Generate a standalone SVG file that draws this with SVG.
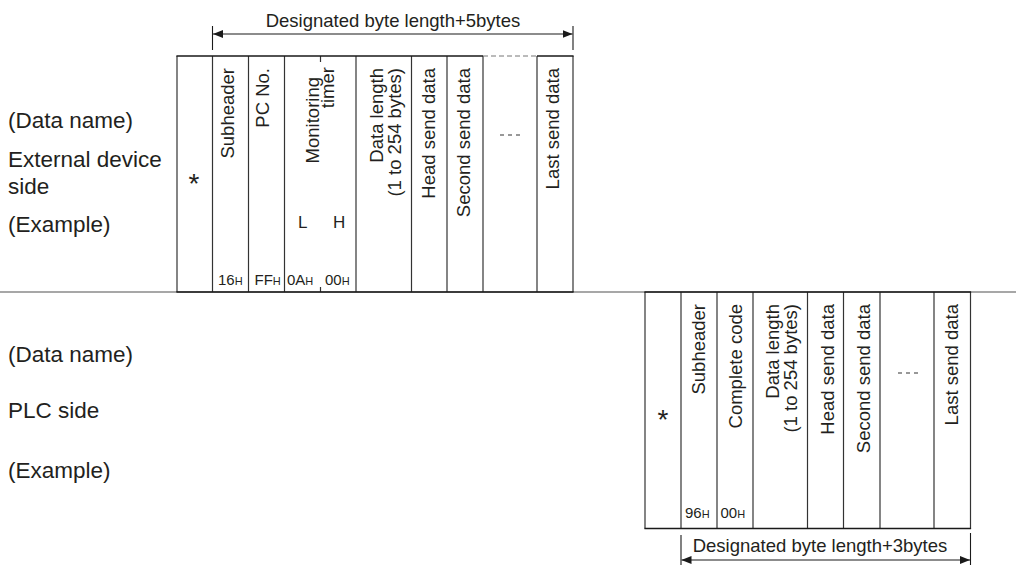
<svg xmlns="http://www.w3.org/2000/svg" width="1016" height="565" viewBox="0 0 1016 565">
<style>
.t{font-family:"Liberation Sans",Arial,sans-serif;fill:#231f20}
.lbl{font-size:22.5px}
.col{font-size:18.5px}
.ttl{font-size:18.5px}
.hex{font-size:15px}
.hs{font-size:11px}
.ast{font-size:28px}
.lh{font-size:17px}
.frm line{stroke:#333;stroke-width:1.2}
.bd{stroke:#1a1a1a;stroke-width:1.6;fill:none}
.dim{stroke:#1a1a1a;stroke-width:1.1;fill:none}
.dots{stroke:#777;stroke-width:1;stroke-dasharray:4 4}
</style>
<defs>
<marker id="ah" viewBox="0 0 10 8" refX="10" refY="4" markerWidth="10" markerHeight="8" markerUnits="userSpaceOnUse" orient="auto-start-reverse">
<path d="M0,0 L10,4 L0,8 Z" fill="#1a1a1a"/>
</marker>
</defs>
<rect width="1016" height="565" fill="#fff"/>

<g id="separator">
<line x1="0" y1="292" x2="1016" y2="292" stroke="#8a8a8a" stroke-width="1.5"/>
</g>

<g id="ext-labels">
<text class="t lbl" x="8" y="128">(Data name)</text>
<text class="t lbl" x="8" y="167">External device</text>
<text class="t lbl" x="8" y="194">side</text>
<text class="t lbl" x="8" y="232">(Example)</text>
</g>

<g id="ext-frame" class="frm">
<line x1="177" y1="56" x2="177" y2="292"/>
<line x1="212.5" y1="56" x2="212.5" y2="292"/>
<line x1="248.5" y1="56" x2="248.5" y2="292"/>
<line x1="284.5" y1="56" x2="284.5" y2="292"/>
<line x1="356" y1="56" x2="356" y2="292"/>
<line x1="411.5" y1="56" x2="411.5" y2="292"/>
<line x1="447" y1="56" x2="447" y2="292"/>
<line x1="483" y1="56" x2="483" y2="292"/>
<line x1="537" y1="56" x2="537" y2="292"/>
<line x1="573" y1="56" x2="573" y2="292"/>
<line x1="320.5" y1="56" x2="320.5" y2="62"/>
<line x1="320.5" y1="287" x2="320.5" y2="292"/>
<path class="bd" d="M176.4,56 H483 M537,56 H573.6 M176.4,292 H573.6"/>
<line x1="483" y1="56" x2="537" y2="56" style="stroke:#777;stroke-width:1;stroke-dasharray:5 3"/>
<line class="dots" x1="500" y1="135" x2="520" y2="135"/>
<text class="t ast" x="194" y="193" text-anchor="middle">*</text>
<text class="t col" transform="translate(233.5,68) rotate(-90)" text-anchor="end">Subheader</text>
<text class="t col" transform="translate(268.5,68) rotate(-90)" text-anchor="end">PC No.</text>
<text class="t col" transform="translate(319,77) rotate(-90)" text-anchor="end">Monitoring</text>
<text class="t col" transform="translate(334,67) rotate(-90)" text-anchor="end">timer</text>
<text class="t col" transform="translate(383,68) rotate(-90)" text-anchor="end">Data length</text>
<text class="t col" transform="translate(401,68) rotate(-90)" text-anchor="end">(1 to 254 bytes)</text>
<text class="t col" transform="translate(435,68) rotate(-90)" text-anchor="end">Head send data</text>
<text class="t col" transform="translate(470,68) rotate(-90)" text-anchor="end">Second send data</text>
<text class="t col" transform="translate(559,68) rotate(-90)" text-anchor="end">Last send data</text>
<text class="t lh" x="298" y="228">L</text>
<text class="t lh" x="333" y="228">H</text>
<text class="t hex" x="218" y="285">16<tspan class="hs">H</tspan></text>
<text class="t hex" x="254.5" y="285">FF<tspan class="hs">H</tspan></text>
<text class="t hex" x="287" y="285">0A<tspan class="hs">H</tspan></text>
<text class="t hex" x="325" y="285">00<tspan class="hs">H</tspan></text>
</g>

<g id="plc-labels">
<text class="t lbl" x="8" y="362">(Data name)</text>
<text class="t lbl" x="8" y="418">PLC side</text>
<text class="t lbl" x="8" y="478">(Example)</text>
</g>

<g id="plc-frame" class="frm">
<line x1="645" y1="292" x2="645" y2="528.5"/>
<line x1="681" y1="292" x2="681" y2="528.5"/>
<line x1="717" y1="292" x2="717" y2="528.5"/>
<line x1="753" y1="292" x2="753" y2="528.5"/>
<line x1="807.5" y1="292" x2="807.5" y2="528.5"/>
<line x1="843.5" y1="292" x2="843.5" y2="528.5"/>
<line x1="880" y1="292" x2="880" y2="528.5"/>
<line x1="934" y1="292" x2="934" y2="528.5"/>
<line x1="970.5" y1="292" x2="970.5" y2="528.5"/>
<path class="bd" d="M644.4,292 H971.1 M644.4,528.5 H971.1"/>
<line class="dots" x1="898" y1="373" x2="918" y2="373"/>
<text class="t ast" x="663" y="429" text-anchor="middle">*</text>
<text class="t col" transform="translate(705,304) rotate(-90)" text-anchor="end">Subheader</text>
<text class="t col" transform="translate(741.5,304) rotate(-90)" text-anchor="end">Complete code</text>
<text class="t col" transform="translate(779,304) rotate(-90)" text-anchor="end">Data length</text>
<text class="t col" transform="translate(797,304) rotate(-90)" text-anchor="end">(1 to 254 bytes)</text>
<text class="t col" transform="translate(833.5,304) rotate(-90)" text-anchor="end">Head send data</text>
<text class="t col" transform="translate(869.5,304) rotate(-90)" text-anchor="end">Second send data</text>
<text class="t col" transform="translate(958,304) rotate(-90)" text-anchor="end">Last send data</text>
<text class="t hex" x="685" y="518">96<tspan class="hs">H</tspan></text>
<text class="t hex" x="720.5" y="518">00<tspan class="hs">H</tspan></text>
</g>

<g id="connectors">
<g id="ext-length">
<line class="dim" x1="212.5" y1="26" x2="212.5" y2="50"/>
<line class="dim" x1="573" y1="26" x2="573" y2="50"/>
<line class="dim" x1="213" y1="34" x2="572.5" y2="34" marker-start="url(#ah)" marker-end="url(#ah)"/>
<text class="t ttl" x="393" y="27" text-anchor="middle">Designated byte length+5bytes</text>
</g>
<g id="plc-length">
<line class="dim" x1="681" y1="535" x2="681" y2="565"/>
<line class="dim" x1="970.5" y1="533" x2="970.5" y2="565"/>
<line class="dim" x1="681.5" y1="560" x2="970" y2="560" marker-start="url(#ah)" marker-end="url(#ah)"/>
<text class="t ttl" x="820" y="552" text-anchor="middle">Designated byte length+3bytes</text>
</g>
</g>
</svg>
